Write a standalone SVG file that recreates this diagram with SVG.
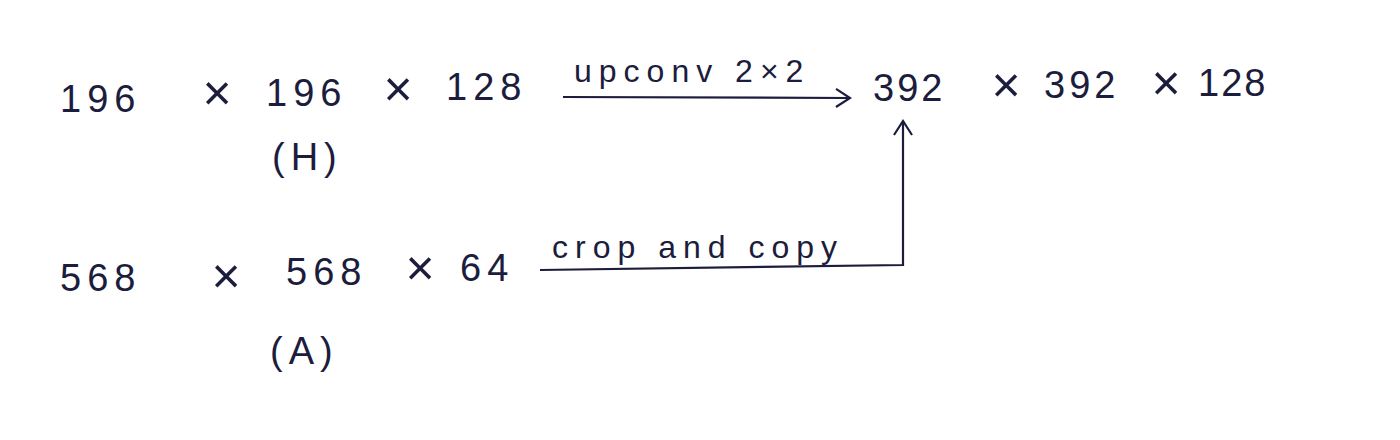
<svg xmlns="http://www.w3.org/2000/svg" width="1400" height="440" viewBox="0 0 1400 440">
<style>
.t{font-family:"Liberation Sans","DejaVu Sans",sans-serif;font-size:38px;fill:#1c1c3c;letter-spacing:6px}
.x{font-family:"Liberation Sans","DejaVu Sans",sans-serif;font-size:50px;fill:#1c1c3c;text-anchor:middle}
.l{font-family:"Liberation Sans","DejaVu Sans",sans-serif;font-size:32px;fill:#1c1c3c;letter-spacing:7px}
.c{stroke:#1c1c3c;stroke-width:2.2;fill:none}
</style>
<defs>
<marker id="ah" viewBox="0 0 20 20" refX="18" refY="10" markerWidth="20" markerHeight="20" markerUnits="userSpaceOnUse" orient="auto">
<path d="M4,1 L18,10 L4,19" fill="none" stroke="#1c1c3c" stroke-width="2.2"/>
</marker>
</defs>
<rect width="1400" height="440" fill="#ffffff"/>
<g id="nodeH">
<text class="t" x="60" y="112">196</text>
<text class="x" x="217" y="110">×</text>
<text class="t" x="266" y="106">196</text>
<text class="x" x="398" y="106">×</text>
<text class="t" x="446" y="100">128</text>
<text class="t" x="272" y="170">(H)</text>
</g>
<g id="nodeOut">
<text class="t" x="873" y="101" style="letter-spacing:3px">392</text>
<text class="x" x="1006" y="102">×</text>
<text class="t" x="1044" y="98" style="letter-spacing:4px">392</text>
<text class="x" x="1166" y="100">×</text>
<text class="t" x="1198" y="96" style="letter-spacing:2px">128</text>
</g>
<g id="nodeA">
<text class="t" x="60" y="291">568</text>
<text class="x" x="226" y="293">×</text>
<text class="t" x="286" y="285">568</text>
<text class="x" x="420" y="285">×</text>
<text class="t" x="460" y="281">64</text>
<text class="t" x="270" y="364">(A)</text>
</g>
<g id="connectors">
<path class="c" d="M563,97 L850,98" marker-end="url(#ah)"/>
<text class="l" x="574" y="82">upconv 2×2</text>
<path class="c" d="M540,270 L903,265 L903,121" marker-end="url(#ah)"/>
<text class="l" x="552" y="258">crop and copy</text>
</g>
</svg>
